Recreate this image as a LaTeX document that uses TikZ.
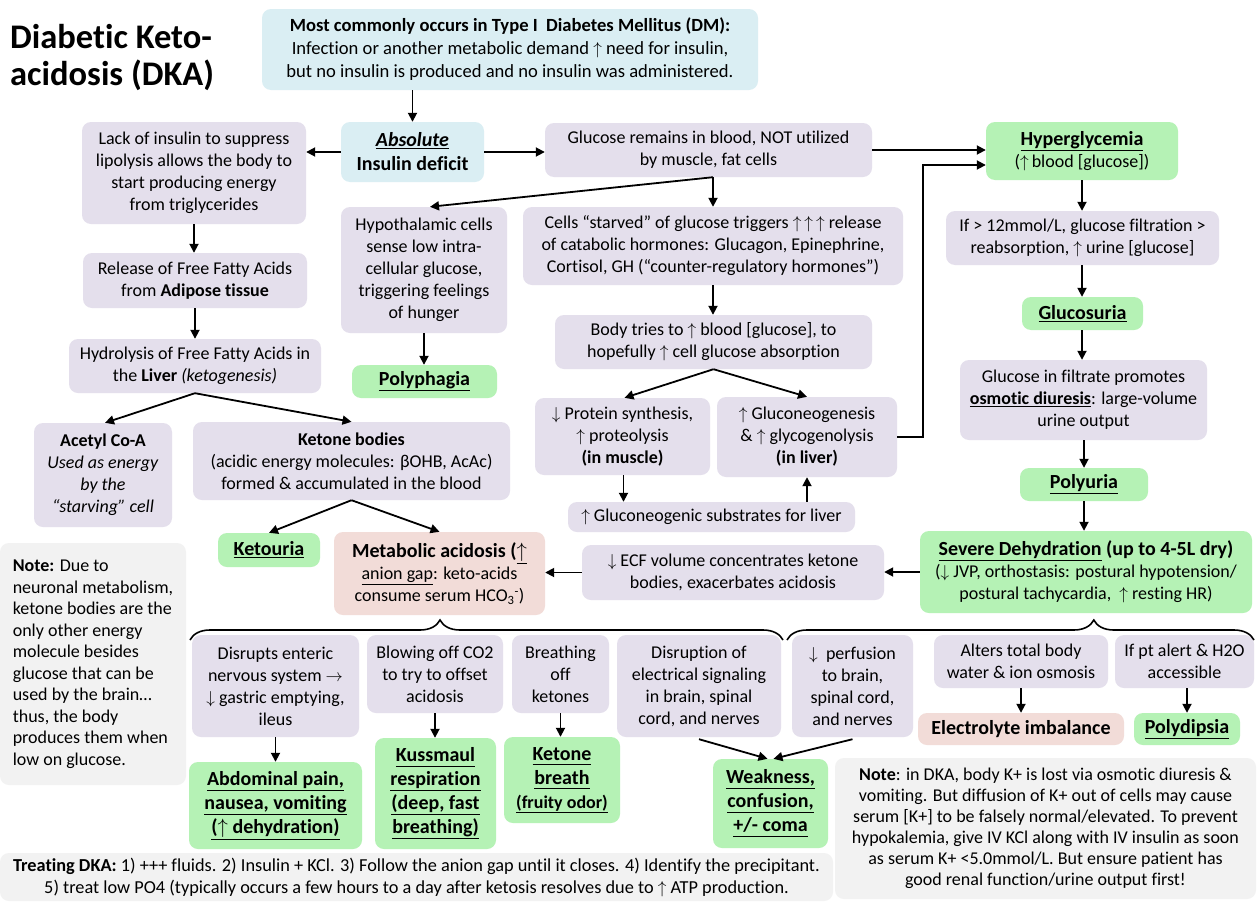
\documentclass[tikz,border=0pt]{standalone}
\usepackage{fontspec}
\setmainfont{Carlito}[Ligatures={NoCommon,NoContextual}]
\usetikzlibrary{arrows.meta,decorations.pathreplacing,calc}
\definecolor{cblue}{RGB}{218,238,243}
\definecolor{clav}{RGB}{228,223,236}
\definecolor{cgreen}{RGB}{181,242,181}
\definecolor{cpink}{RGB}{242,220,216}
\definecolor{cgrey}{RGB}{242,242,242}
\newcommand\fs{\fontsize{18}{22}\selectfont}
\newcommand\fg{\fontsize{20}{24}\selectfont}
\newcommand\up{$\uparrow$}
\newcommand\dn{$\downarrow$}
\newcommand\ul[1]{\underline{#1\vphantom{yp}}}
\newcommand\hco{HCO\textsubscript{3}\textsuperscript{-}}
\newcommand\mybox[7]{\node[#1, minimum width={#5-#3}, minimum height={#6-#4}] (#2) at ({(#3+#5)/2},{(#4+#6)/2}) {#7};}
\begin{document}
\begin{tikzpicture}[x=1pt,y=-1pt,
  bx/.style={rounded corners=9pt, inner sep=0pt, align=center, font=\fs},
  lav/.style={bx,fill=clav},
  blu/.style={bx,fill=cblue},
  grn/.style={bx,fill=cgreen},
  pnk/.style={bx,fill=cpink},
  gry/.style={bx,fill=cgrey},
  big/.style={font=\fg\bfseries},
  arr/.style={-{Triangle[length=9pt,width=9pt]}, line width=1.8pt},
  brc/.style={line width=1.6pt, decorate},
]
\fill[white] (0,0) rectangle (1259,905);
\useasboundingbox (0,0) rectangle (1259,905);

\node[anchor=north west, inner sep=0pt, align=left, font=\fontsize{34.5}{37}\selectfont\bfseries] (title) at (10,24) {Diabetic Keto-\\acidosis (DKA)};

\mybox{blu,font=\fontsize{18.6}{23}\selectfont}{top}{262}{9}{758}{90}{\textbf{Most commonly occurs in Type I\ \ Diabetes Mellitus (DM):}\\Infection or another metabolic demand \up\ need for insulin,\\but no insulin is produced and no insulin was administered.}
\mybox{blu,big}{abs}{341}{122}{484}{182}{\textit{\underline{Absolute}}\\Insulin deficit}
\mybox{lav}{lack}{82}{122}{306}{224}{Lack of insulin to suppress\\lipolysis allows the body to\\start producing energy\\from triglycerides}
\mybox{lav}{glu}{545}{123}{872}{177}{Glucose remains in blood, NOT utilized\\by muscle, fat cells}
\mybox{grn}{hyper}{986}{122}{1178}{180}{{\fg\textbf{\underline{Hyperglycemia}}}\\(\up\,blood [glucose])}
\mybox{lav}{rel}{83}{253}{307}{308}{Release of Free Fatty Acids\\from \textbf{Adipose tissue}}
\mybox{lav}{hypo}{341}{207}{507}{333}{Hypothalamic cells\\sense low intra-\\cellular glucose,\\triggering feelings\\of hunger}
\mybox{lav}{cells}{523}{207}{903}{285}{Cells “starved” of glucose triggers \up\,\up\,\up\ release\\of catabolic hormones: Glucagon, Epinephrine,\\Cortisol, GH (“counter-regulatory hormones”)}
\mybox{lav}{if12}{946}{211}{1219}{265}{If > 12mmol/L, glucose filtration >\\reabsorption, \up\ urine [glucose]}
\mybox{lav}{hyd}{69}{339}{321}{393}{Hydrolysis of Free Fatty Acids in\\the \textbf{Liver} \textit{(ketogenesis)}}
\mybox{grn,big}{polyph}{352}{365}{497}{398}{\underline{Polyphagia}}
\mybox{lav}{body}{555}{315}{872}{369}{Body tries to \up\ blood [glucose], to\\hopefully \up\ cell glucose absorption}
\mybox{grn,big}{glucosuria}{1022}{297}{1143}{330}{\underline{Glucosuria}}
\mybox{lav}{filt}{960}{360}{1207}{440}{Glucose in filtrate promotes\\\textbf{\underline{osmotic diuresis}}: large-volume\\urine output}
\mybox{lav}{acetyl}{34}{423}{172}{527}{\textbf{Acetyl Co-A}\\\textit{Used as energy}\\\textit{by the}\\\textit{“starving” cell}}
\mybox{lav}{ketone}{193}{422}{510}{500}{\textbf{Ketone bodies}\\(acidic energy molecules: βOHB, AcAc)\\formed \& accumulated in the blood}
\mybox{lav}{protein}{535}{398}{710}{475}{\dn\ Protein synthesis,\\\up\ proteolysis\\\textbf{(in muscle)}}
\mybox{lav}{gneo}{717}{397}{897}{477}{\up\ Gluconeogenesis\\\& \up\ glycogenolysis\\\textbf{(in liver)}}
\mybox{lav}{subs}{568}{502}{855}{532}{\up\ Gluconeogenic substrates for liver}
\mybox{grn,big}{polyuria}{1020}{468}{1148}{501}{\underline{Polyuria}}
\mybox{grn,big}{ketouria}{218}{533}{320}{567}{\underline{Ketouria}}
\mybox{pnk}{metab}{334}{532}{545}{615}{{\fg\textbf{Metabolic acidosis (\underline{\up}}}\\\underline{anion gap}: keto-acids\\consume serum \hco)}
\mybox{lav}{ecf}{582}{545}{884}{600}{\dn\ ECF volume concentrates ketone\\bodies, exacerbates acidosis}
\mybox{grn}{severe}{920}{531}{1252}{613}{{\fg\textbf{\underline{Severe Dehydration} (up to 4-5L dry)}}\\(\dn\ JVP, orthostasis: postural hypotension/\\postural tachycardia,\ \ \up\ resting HR)}
\mybox{gry,align=left,font=\fontsize{18}{21.5}\selectfont}{noteL}{0}{543}{186}{785}{\textbf{Note:} Due to\\neuronal metabolism,\\ketone bodies are the\\only other energy\\molecule besides\\glucose that can be\\used by the brain…\\thus, the body\\produces them when\\low on glucose.}

\mybox{lav}{enteric}{192}{635}{359}{737}{Disrupts enteric\\nervous system $\rightarrow$\\\dn\ gastric emptying,\\ileus}
\mybox{lav}{blowing}{367}{635}{503}{713}{Blowing off CO2\\to try to offset\\acidosis}
\mybox{lav}{breathing}{512}{635}{609}{713}{Breathing\\off\\ketones}
\mybox{lav}{electrical}{617}{635}{781}{737}{Disruption of\\electrical signaling\\in brain, spinal\\cord, and nerves}
\mybox{lav}{perfusion}{792}{635}{913}{737}{\dn\ \ perfusion\\to brain,\\spinal cord,\\and nerves}
\mybox{lav}{alters}{934}{635}{1108}{688}{Alters total body\\water \& ion osmosis}
\mybox{lav}{ptalert}{1115}{635}{1254}{688}{If pt alert \& H2O\\accessible}
\mybox{pnk,big}{electrolyte}{918}{713}{1124}{745}{Electrolyte imbalance}
\mybox{grn,big}{polydipsia}{1134}{713}{1240}{745}{\underline{Polydipsia}}
\mybox{grn,big}{abdominal}{189}{762}{362}{849}{\ul{Abdominal pain,}\\\ul{nausea, vomiting}\\\ul{(\up\ dehydration)}}
\mybox{grn,big}{kussmaul}{375}{738}{496}{849}{\ul{Kussmaul}\\\ul{respiration}\\\ul{(deep, fast}\\\ul{breathing)}}
\mybox{grn,big}{ketbreath}{504}{737}{620}{823}{\ul{Ketone}\\\ul{breath}\\{\fs\ul{(fruity odor)}}}
\mybox{grn,big}{weakness}{713}{759}{828}{848}{\ul{Weakness,}\\\ul{confusion,}\\\ul{+/- coma}}
\mybox{gry,font=\fontsize{18}{21}\selectfont}{noteR}{835}{758}{1256}{899}{\textbf{Note}: in DKA, body K+ is lost via osmotic diuresis \&\\vomiting. But diffusion of K+ out of cells may cause\\serum [K+] to be falsely normal/elevated. To prevent\\hypokalemia, give IV KCl along with IV insulin as soon\\as serum K+ <5.0mmol/L. But ensure patient has\\good renal function/urine output first!}
\mybox{gry,font=\fontsize{18.3}{22}\selectfont}{treat}{0}{853}{833}{901}{\textbf{Treating DKA:} 1) +++ fluids. 2) Insulin + KCl. 3) Follow the anion gap until it closes. 4) Identify the precipitant.\\5) treat low PO4 (typically occurs a few hours to a day after ketosis resolves due to \up\ ATP production.}

% connectors
\draw[arr] (top.south -| abs.north) -- (abs.north);
\draw[arr] (abs.west) -- (abs.west -| lack.east);
\draw[arr] (abs.east) -- (abs.east -| glu.west);
\draw[arr] (glu.east) -- (glu.east -| hyper.west);
\draw[arr] (gneo.east) -| ($(hyper.west)+(-63,14)$) -- ($(hyper.west)+(0,14)$);
\coordinate (gb) at (glu.south -| cells.north);
\draw[arr] (gb) -- (cells.north);
\draw[arr] (gb) -- ($(hypo.north)+(6,0)$);
\draw[arr] (lack.south) -- (lack.south |- rel.north);
\draw[arr] (rel.south) -- (rel.south |- hyd.north);
\draw[arr] (hyd.south) -- ($(acetyl.north)+(2,0)$);
\draw[arr] (hyd.south) -- (ketone.north);
\draw[arr] (ketone.south) -- (ketouria.north);
\draw[arr] (ketone.south) -- (metab.north);
\draw[arr] (hypo.south) -- (hypo.south |- polyph.north);
\draw[arr] (cells.south) -- (cells.south |- body.north);
\draw[arr] (body.south) -- ($(protein.north)+(2,0)$);
\draw[arr] (body.south) -- (gneo.north);
\draw[arr] ($(protein.south)+(1,0)$) -- ($(protein.south |- subs.north)+(1,0)$);
\draw[arr] (subs.north -| gneo.south) -- (gneo.south);
\draw[arr] (hyper.south) -- (hyper.south |- if12.north);
\draw[arr] (if12.south -| hyper.south) -- (glucosuria.north -| hyper.south);
\draw[arr] (glucosuria.south -| hyper.south) -- (filt.north -| hyper.south);
\draw[arr] (filt.south -| polyuria.north) -- (polyuria.north);
\draw[arr] (polyuria.south) -- (polyuria.south |- severe.north);
\draw[arr] (severe.west) -- (severe.west -| ecf.east);
\draw[arr] (ecf.west) -- (ecf.west -| metab.east);

\coordinate (bl1) at (190,640);
\coordinate (bl2) at (783,640);
\coordinate (br1) at (787,640);
\coordinate (br2) at (1254,640);
\draw[brc, decoration={brace, amplitude=20pt, aspect=0.4216}] (bl1) -- (bl2);
\draw[brc, decoration={brace, amplitude=20pt, aspect=0.657}] (br1) -- (br2);

\draw[arr] (enteric.south) -- (enteric.south |- abdominal.north);
\draw[arr] (blowing.south) -- (blowing.south |- kussmaul.north);
\draw[arr] (breathing.south) -- (breathing.south |- ketbreath.north);
\draw[arr] (alters.south) -- (alters.south |- electrolyte.north);
\draw[arr] (ptalert.south -| polydipsia.north) -- (polydipsia.north);
\draw[arr] ($(electrical.south)+(0,2)$) -- ($(weakness.north)+(-3,0)$);
\draw[arr] ($(perfusion.south)+(0,2)$) -- ($(weakness.north)+(3,0)$);
\end{tikzpicture}
\end{document}
